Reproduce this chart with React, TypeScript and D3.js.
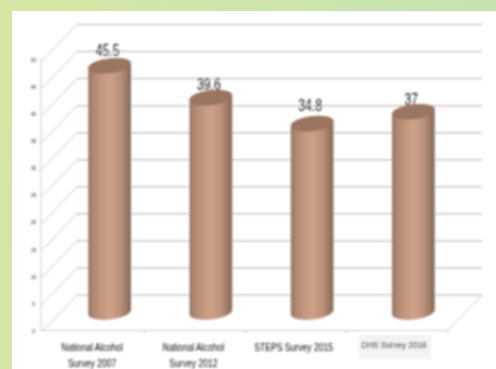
import React from "react";
import * as d3 from "d3";

const categories = ["National Alcohol Survey 2007", "National Alcohol Survey 2012", "STEPS Survey 2015", "DHS Survey 2016"];
const categoryLines = [["National Alcohol", "Survey 2007"], ["National Alcohol", "Survey 2012"], ["STEPS Survey 2015"], ["DHS Survey 2016"]];
const values = [45.5, 39.6, 34.8, 37];
const valueLabels = ["45.5", "39.6", "34.8", "37"];
const yTicks = [0, 5, 10, 15, 20, 25, 30, 35, 40, 45, 50];
// Hand-placed data labels: gap above each cap
const labelGaps = [15, 13, 18.5, 12];

const width = 496;
const height = 369;
const depthX = 34;
const depthY = -35.5;
const sans = "'Liberation Sans', Arial, sans-serif";

const x = d3.scaleBand<string>().domain(categories).range([43, 448]);
const y = d3.scaleLinear().domain([0, 50]).range([330.5, 60]);

// Vertical cylinder with a tilted elliptical cap and base
function cylinderBody(cx: number, top: number, base: number, rx: number, ry: number, tilt: number) {
  const rad = (tilt * Math.PI) / 180;
  const dx = rx * Math.cos(rad);
  const dy = rx * Math.sin(rad);
  return `M${cx - dx},${top - dy} A${rx},${ry} ${tilt} 0 1 ${cx + dx},${top + dy} L${cx + dx},${base + dy} A${rx},${ry} ${tilt} 0 1 ${cx - dx},${base - dy} Z`;
}

// Text squeezed horizontally, standing in for a condensed face
function Condensed({ cx, cy, size, squeeze, fill, children }: any) {
  return (
    <text
      transform={`translate(${cx} ${cy}) scale(${squeeze} 1)`}
      textAnchor="middle"
      dominantBaseline="central"
      fontSize={size}
      fontFamily={sans}
      fill={fill}
    >
      {children}
    </text>
  );
}

export default function App() {
  const barOffsetX = 16;
  const barOffsetY = -18.5;
  const rx = 21.5;
  const ry = 7.5;
  const tilt = -7;
  return (
    <svg
      width={width}
      height={height}
      viewBox={`0 0 ${width} ${height}`}
      style={{ position: "absolute", left: 0, top: 0, display: "block" }}
    >
      <defs>
        <linearGradient id="page" x1="0" y1="0" x2="1" y2="0.25">
          <stop offset="0" stopColor="#d6e6a2" />
          <stop offset="0.5" stopColor="#cfe5ae" />
          <stop offset="1" stopColor="#c2e3b0" />
        </linearGradient>
        <linearGradient id="barSide" x1="0" y1="0" x2="1" y2="0">
          <stop offset="0" stopColor="#8f7160" />
          <stop offset="0.1" stopColor="#ad866f" />
          <stop offset="0.32" stopColor="#c4987f" />
          <stop offset="0.52" stopColor="#cea088" />
          <stop offset="0.74" stopColor="#bd917a" />
          <stop offset="0.92" stopColor="#967462" />
          <stop offset="1" stopColor="#866b5a" />
        </linearGradient>
        <filter id="soft" filterUnits="userSpaceOnUse" x="0" y="0" width={width} height={height}>
          <feGaussianBlur stdDeviation="0.85" />
        </filter>
      </defs>

      <rect width={width} height={height} fill="url(#page)" />
      <rect x={12} y={11} width={width - 12} height={height - 11} fill="#ffffff" />

      <g filter="url(#soft)">
        {/* Grey plate behind the last category label */}
        <rect x={359} y={335} width={72} height={24} fill="#f3f3f3" />

        {/* Back wall and side wall gridlines */}
        {yTicks.map((t) => (
          <g key={t} stroke="#c6c6c6" fill="none">
            <line x1={x.range()[0] + depthX} x2={x.range()[1] + depthX} y1={y(t) + depthY} y2={y(t) + depthY} strokeWidth={1.5} />
            <line x1={x.range()[0]} x2={x.range()[0] + depthX} y1={y(t)} y2={y(t) + depthY} strokeWidth={1} />
            <line x1={x.range()[0] - 3} x2={x.range()[0]} y1={y(t)} y2={y(t)} strokeWidth={0.8} />
          </g>
        ))}

        {/* Axis lines and floor edges */}
        <g stroke="#cacaca" fill="none" strokeWidth={1}>
          <line x1={41} x2={41} y1={y(50)} y2={y(0)} />
          <line x1={x.range()[0]} x2={x.range()[1]} y1={y(0)} y2={y(0)} />
          <line x1={x.range()[1]} x2={x.range()[1] + depthX} y1={y(0)} y2={y(0) + depthY} />
          {categories.map((c) => (
            <line key={c} x1={(x(c) ?? 0) + x.bandwidth()} x2={(x(c) ?? 0) + x.bandwidth()} y1={y(0)} y2={y(0) + 3} />
          ))}
        </g>

        {/* Value axis labels */}
        {yTicks.map((t) => (
          <Condensed key={t} cx={33.5} cy={y(t)} size={5.5} squeeze={0.85} fill="#222">
            {t}
          </Condensed>
        ))}

        {/* Cylinders */}
        {categories.map((c, i) => {
          const cx = (x(c) ?? 0) + x.bandwidth() / 2 + barOffsetX;
          const top = y(values[i]) + barOffsetY;
          const base = y(0) + barOffsetY;
          return (
            <g key={c}>
              <path d={cylinderBody(cx, top, base, rx, ry, tilt)} fill="url(#barSide)" />
              <ellipse cx={cx} cy={top} rx={rx} ry={ry} transform={`rotate(${tilt} ${cx} ${top})`} fill="#9a7561" />
              <Condensed cx={cx - 2} cy={top - labelGaps[i]} size={16} squeeze={0.76} fill="#111">
                {valueLabels[i]}
              </Condensed>
            </g>
          );
        })}

        {/* Category labels */}
        {categories.map((c, i) => {
          const cx = (x(c) ?? 0) + x.bandwidth() / 2 - (i === 2 ? 2.5 : 1.5);
          const isLast = i === categories.length - 1;
          return categoryLines[i].map((line, j) => (
            <Condensed
              key={line}
              cx={isLast ? cx - 2 : cx}
              cy={(isLast ? 344.5 : 347.5) + j * 16}
              size={isLast ? 9.5 : 10}
              squeeze={0.86}
              fill="#111"
            >
              {line}
            </Condensed>
          ));
        })}
      </g>
    </svg>
  );
}
